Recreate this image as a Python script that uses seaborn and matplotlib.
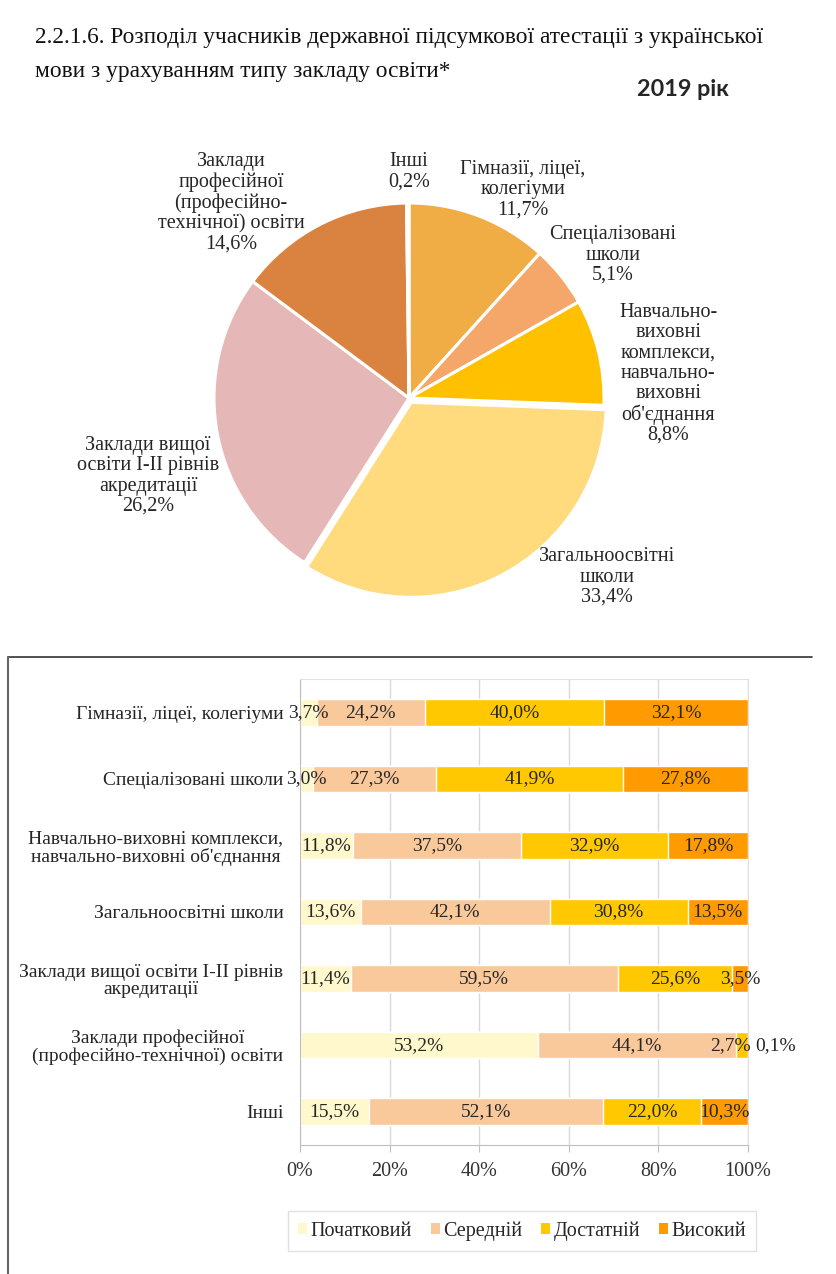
import numpy as np
import pandas as pd
import matplotlib
matplotlib.use('Agg')
import matplotlib.pyplot as plt
from matplotlib.lines import Line2D
from matplotlib.patches import Patch
import seaborn as sns

# Pie data: shares by type of school
pie_labels = ['Гімназії, ліцеї,\nколегіуми', 'Спеціалізовані\nшколи',
              'Навчально-\nвиховні\nкомплекси,\nнавчально-\nвиховні\nоб\'єднання',
              'Загальноосвітні\nшколи', 'Заклади вищої\nосвіти І-ІІ рівнів\nакредитації',
              'Заклади\nпрофесійної\n(професійно-\nтехнічної) освіти', 'Інші']
pie_values = [11.7, 5.1, 8.8, 33.4, 26.2, 14.6, 0.2]
pie_colors = ['#F0AC45', '#F5A769', '#FFC000', '#FFDB7D', '#E5B8B7', '#DA823F', '#8EA9DB']
# label centres, in pie radius units
pie_label_pos = [(0.585, 1.067), (1.046, 0.733), (1.33, 0.123), (1.015, -0.918),
                 (-1.338, -0.40), (-0.913, 1.0), (0.0, 1.16)]

# Stacked bar data: result levels by type of school (%)
bar_cats = ['Гімназії, ліцеї, колегіуми', 'Спеціалізовані школи',
            'Навчально-виховні комплекси,\nнавчально-виховні об\'єднання',
            'Загальноосвітні школи', 'Заклади вищої освіти І-ІІ рівнів\nакредитації',
            'Заклади професійної\n(професійно-технічної) освіти', 'Інші']
levels = ['Початковий', 'Середній', 'Достатній', 'Високий']
pochatkovyi = [3.7, 3.0, 11.8, 13.6, 11.4, 53.2, 15.5]
serednii = [24.2, 27.3, 37.5, 42.1, 59.5, 44.1, 52.1]
dostatnii = [40.0, 41.9, 32.9, 30.8, 25.6, 2.7, 22.0]
vysokyi = [32.1, 27.8, 17.8, 13.5, 3.5, 0.1, 10.3]
level_colors = ['#FFF8CC', '#F9C99B', '#FFC800', '#FF9A00']

SERIF = ['Liberation Serif', 'DejaVu Serif']
W, H = 836, 1274

sns.set_style('white')
plt.rcParams['font.family'] = SERIF
fig = plt.figure(figsize=(W / 100, H / 100), dpi=100)


def fx(px):
    return px / W


def fy(px):
    return 1 - px / H


# Header
fig.text(fx(35), fy(38), '2.2.1.6. Розподіл учасників державної підсумкової атестації з української',
         fontsize=16.8, va='center', ha='left', color='#111111')
fig.text(fx(35), fy(71), 'мови з урахуванням типу закладу освіти*',
         fontsize=16.8, va='center', ha='left', color='#111111')
fig.text(fx(683), fy(89), '2019 рік', fontsize=16.8, fontweight='bold', va='center', ha='center',
         family=['Lato', 'DejaVu Sans'])

# Pie
R = 195
cx, cy = 409, 398
half = 1.6
pax = fig.add_axes([fx(cx - half * R), fy(cy + half * R), 2 * half * R / W, 2 * half * R / H])
explode = [0.0, 0.0, 0.0, 0.025, 0.0, 0.0, 0.0]
wedges, _ = pax.pie(pie_values, colors=pie_colors, startangle=90, counterclock=False,
                    explode=explode, radius=1.0,
                    wedgeprops=dict(edgecolor='white', linewidth=2.2))
pax.set_xlim(-half, half)
pax.set_ylim(-half, half)
pax.set_aspect('equal')
pax.axis('off')
for lab, val, (lx, ly) in zip(pie_labels, pie_values, pie_label_pos):
    txt = lab + '\n' + f'{val:.1f}%'.replace('.', ',')
    pax.text(lx, ly, txt, ha='center', va='center', fontsize=14.5, color='#262626',
             linespacing=1.08)

# Frame around bar chart
fig.add_artist(Line2D([fx(8), fx(812)], [fy(657), fy(657)], color='#333333', lw=1.2))
fig.add_artist(Line2D([fx(8), fx(8)], [fy(657), fy(1274)], color='#666666', lw=1.5))

# Stacked bars
bax = fig.add_axes([fx(300), fy(1145), 448 / W, (1145 - 679) / H])
df = pd.DataFrame({'cat': bar_cats, levels[0]: pochatkovyi, levels[1]: serednii,
                   levels[2]: dostatnii, levels[3]: vysokyi})
cum = df[levels].cumsum(axis=1)
for lev, col in reversed(list(zip(levels, level_colors))):
    sns.barplot(x=cum[lev], y=df['cat'], color=col, orient='h', width=0.4,
                saturation=1, ax=bax, zorder=2)

for i in range(len(df)):
    left = 0.0
    vals = [df.loc[i, lev] for lev in levels]
    for k, v in enumerate(vals):
        s = f'{v:.1f}%'.replace('.', ',')
        if v < 1:
            # tiny segment: label goes outside the bar
            bax.text(left + v + 1.6, i, s, ha='left', va='center', fontsize=14, color='#262626',
                     clip_on=False)
        else:
            xc = left + v / 2
            if k + 1 < len(vals) and vals[k + 1] < 1:
                xc -= 2.6
            bax.text(xc, i, s, ha='center', va='center', fontsize=14, color='#262626')
        left += v

bax.set_xlim(0, 100)
bax.set_ylim(6.5, -0.5)
bax.set_xticks(np.arange(0, 101, 20))
bax.set_xticklabels([f'{t}%' for t in range(0, 101, 20)], fontsize=14.5, color='#333333')
bax.set_xlabel('')
bax.set_ylabel('')
bax.grid(axis='x', color='#D9D9D9', lw=1, zorder=0)
bax.set_axisbelow(True)
for sp in ['top', 'right']:
    bax.spines[sp].set_color('#E0E0E0')
for sp in ['left', 'bottom']:
    bax.spines[sp].set_color('#BFBFBF')
bax.tick_params(axis='x', length=5, color='#BFBFBF', pad=7, direction='out', bottom=True)
bax.tick_params(axis='y', length=0, pad=12)
for t in bax.get_yticklabels():
    t.set_fontsize(14)
    t.set_color('#262626')
    t.set_multialignment('center')
    t.set_linespacing(1.05)

handles = [Patch(facecolor=c, edgecolor='none', label=l) for l, c in zip(levels, level_colors)]
fig.legend(handles=handles, loc='center', bbox_to_anchor=(fx(522), fy(1231)), ncol=4,
           frameon=True, fontsize=14.5, handlelength=0.45, handleheight=0.45, handletextpad=0.15,
           columnspacing=0.95, edgecolor='#D9D9D9', fancybox=False, borderpad=0.5)

fig.savefig('out.png', dpi=100)
